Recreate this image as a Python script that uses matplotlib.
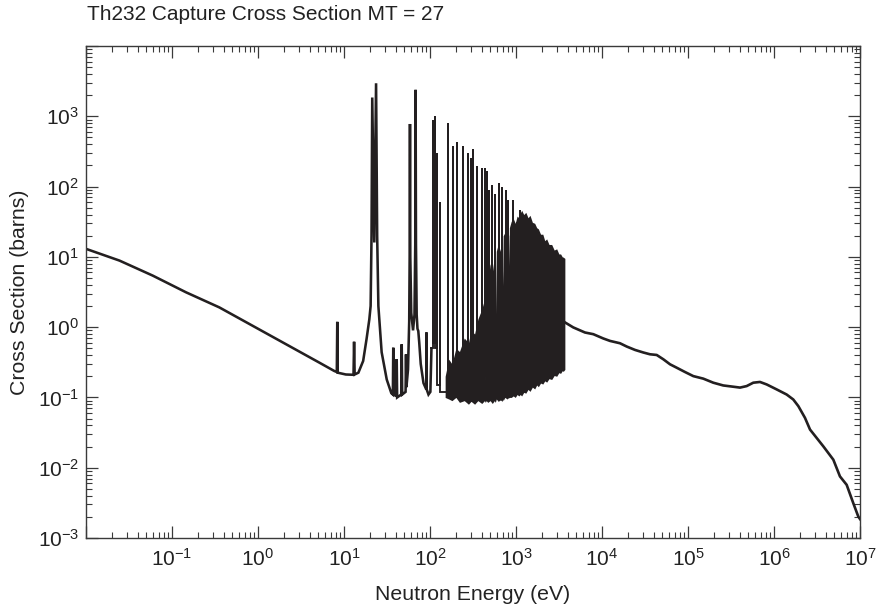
import numpy as np
import matplotlib
matplotlib.use("Agg")
import matplotlib.pyplot as plt
from matplotlib.ticker import LogLocator, LogFormatterMathtext, FuncFormatter, NullFormatter

plt.rcParams['font.family'] = ['Liberation Sans', 'DejaVu Sans']
plt.rcParams['mathtext.fontset'] = 'custom'
plt.rcParams['mathtext.rm'] = 'Liberation Sans'
plt.rcParams['mathtext.it'] = 'Liberation Sans:italic'
plt.rcParams['mathtext.default'] = 'regular'

INK = '#231f20'

# ---- data (energy in eV, cross section in barns) ----
# thermal / low-energy part with first resolved resonances (explicit vertices)
E_low = [0.01, 0.0245, 0.0597, 0.1456, 0.355, 0.867, 2.12, 5.16, 7.7,
         8.25, 8.35, 8.45, 10.5, 12.9, 13.1, 13.3, 14.7, 16.7, 18.3, 19.7,
         20.4, 20.9, 21.3, 22.5, 23.6, 24.3, 25.1, 27.4, 31.4, 35.5,
         37.0, 37.4, 37.8, 40.5, 41.0, 41.5, 46.3, 46.9, 47.5, 52.0, 52.6,
         53.2, 55.5, 57.3, 58.0, 58.5, 59.0, 60.5, 63.5, 66.0, 67.4, 68.0,
         68.7, 70.0, 71.5, 73.1, 75.0, 78.0, 84.0, 90.5, 91.0, 91.5, 96.0,
         101.0, 104.0]
sig_low = [13.0, 8.85, 5.41, 3.13, 1.91, 1.045, 0.571, 0.313, 0.238,
           0.23, 1.19, 0.225, 0.212, 0.21, 0.62, 0.212, 0.225, 0.33, 0.68, 1.29,
           2.0, 20.0, 1850.0, 16.0, 2950.0, 20.0, 2.0, 0.44, 0.18, 0.115,
           0.11, 0.51, 0.11, 0.105, 0.35, 0.10, 0.11, 0.57, 0.11, 0.12, 0.41,
           0.14, 0.25, 1.2, 10.0, 777.0, 10.0, 1.6, 0.9, 1.5, 15.0, 2380.0,
           15.0, 1.5, 0.95, 0.88, 0.6, 0.3, 0.16, 0.13, 0.84, 0.13, 0.11,
           0.12, 0.5]

# resolved resonance spikes: energy, peak value, value of the valley after it
spike_E = [109, 114, 120, 129, 160.6, 186.7, 204, 240, 274, 297, 319, 349,
           399, 437, 456, 490, 526, 570, 640, 681, 765, 813, 931, 1018, 1113]
spike_peak = [900, 1000, 300, 60, 795, 381, 436, 381, 296, 257, 341, 198,
              181, 185, 166, 88, 104, 79, 114, 99, 88, 64, 64, 31, 46]
spike_valley = [0.6, 0.5, 0.15, 0.12, 0.12, 0.3, 0.12, 0.2, 0.2, 0.09, 0.3, 0.15,
                0.2, 0.15, 0.1, 0.2, 0.3, 0.2, 0.3, 0.2, 0.3, 0.2, 0.3, 0.4, 0.5]

# dense block of overlapping resonances (solid envelope, with the few white gaps)
dense_E = [150, 165, 180, 200, 220, 250, 280, 300, 330, 360, 400, 430, 440, 450,
           470, 500, 530, 560, 575, 590, 620, 660, 690, 700, 710, 740, 790, 822,
           830, 838, 880, 930, 980, 1030, 1080, 1120, 1164, 1230,
           1300, 1380, 1455, 1550, 1650, 1740, 1820, 1930, 2050, 2160, 2275,
           2420, 2600, 2780, 2973, 3150, 3300, 3450, 3548, 3700]
dense_top = [0.2, 0.35, 0.3, 0.5, 0.45, 0.7, 0.6, 0.9, 0.8, 1.3, 1.8, 2.5, 0.16, 3.0,
             4.0, 8.0, 6.0, 10.0, 1.0, 12.0, 15.0, 12.0, 18.0, 3.9, 20.0, 22.0, 28.0, 20.0,
             7.5, 26.0, 32.0, 35.0, 30.0, 38.0, 36.0, 42.0, 46.0, 40.0,
             43.0, 36.0, 39.0, 31.0, 30.0, 26.0, 25.0, 21.0, 21.0, 17.0, 18.0,
             15.0, 15.0, 12.5, 13.0, 11.0, 11.0, 10.0, 9.9, 9.5]
dense_bot = [0.10, 0.095, 0.09, 0.1, 0.085, 0.09, 0.08, 0.088, 0.08, 0.09, 0.082, 0.09, 0.085, 0.09,
             0.085, 0.09, 0.082, 0.09, 0.085, 0.095, 0.088, 0.092, 0.088, 0.095, 0.09, 0.1, 0.095, 0.1,
             0.098, 0.1, 0.1, 0.105, 0.1, 0.11, 0.105, 0.11, 0.105, 0.118,
             0.115, 0.13, 0.122, 0.14, 0.132, 0.15, 0.142, 0.16, 0.155, 0.172, 0.165,
             0.185, 0.18, 0.205, 0.2, 0.225, 0.22, 0.24, 0.235, 0.25]

# fast-neutron smooth part
E_high = [3715, 4634, 6339, 7925, 10350, 12390, 16180, 19360, 24210, 30200,
          36140, 43250, 51640, 61800, 73790, 92260, 115300, 150700, 196800,
          257000, 336500, 402700, 480800, 574100, 687100, 822200, 1074000,
          1403000, 1675000, 1919000, 2291000, 2624000, 3750000, 4898000,
          5848000, 6998000, 8356000, 9550000, 10000000]
sig_high = [1.167, 0.991, 0.839, 0.794, 0.690, 0.637, 0.590, 0.530, 0.474, 0.436,
            0.411, 0.402, 0.349, 0.296, 0.265, 0.230, 0.201, 0.185, 0.162,
            0.148, 0.142, 0.138, 0.145, 0.162, 0.166, 0.153, 0.130,
            0.110, 0.0935, 0.0752, 0.0513, 0.0349, 0.0201, 0.0130,
            0.00752, 0.00571, 0.00313, 0.00202, 0.00186]

# ---- build the spike line from the data ----
spk_E = [E_low[-1]]
spk_s = [sig_low[-1]]
prev_valley = sig_low[-1]
for e, p, v in zip(spike_E, spike_peak, spike_valley):
    spk_E += [e, e, e]
    spk_s += [prev_valley, p, v]
    prev_valley = v

fig = plt.figure(figsize=(8.81, 6.10), dpi=100)
ax = fig.add_axes([86/881, 72/610, 774/881, 492/610])

ax.fill_between(dense_E, dense_bot, dense_top, color=INK, lw=0)
ax.plot(spk_E, spk_s, color=INK, lw=1.35, solid_joinstyle='miter')
ax.plot(E_low, sig_low, color=INK, lw=1.85, solid_joinstyle='miter')
ax.plot(E_high, sig_high, color=INK, lw=1.9)

ax.set_xscale('log')
ax.set_yscale('log')

ax.xaxis.set_major_locator(LogLocator(base=10, numticks=20))
ax.xaxis.set_minor_locator(LogLocator(base=10, subs=np.arange(2, 10), numticks=20))
ax.yaxis.set_major_locator(LogLocator(base=10, numticks=20))
ax.yaxis.set_minor_locator(LogLocator(base=10, subs=np.arange(2, 10), numticks=20))

base_fmt = LogFormatterMathtext()
ax.xaxis.set_major_formatter(FuncFormatter(lambda v, p: '' if (v <= 1.01e-2 or v > 1.01e7) else base_fmt(v, p)))
ax.yaxis.set_major_formatter(FuncFormatter(lambda v, p: '' if (v >= 0.99e4 or v < 0.99e-3) else base_fmt(v, p)))
ax.xaxis.set_minor_formatter(NullFormatter())
ax.yaxis.set_minor_formatter(NullFormatter())

ax.set_xlim(1e-2, 1e7)
ax.set_ylim(1e-3, 1e4)

ax.tick_params(which='both', direction='in', top=True, right=True,
               color='#3a3a3a', labelcolor='#222222')
ax.tick_params(which='major', length=8.5, width=0.9, labelsize=15)
ax.tick_params(axis='x', which='major', pad=7)
ax.tick_params(axis='y', which='major', pad=5)
ax.tick_params(which='minor', length=4.2, width=0.8)

for s in ax.spines.values():
    s.set_color('#3a3a3a')
    s.set_linewidth(1.0)

ax.set_xlabel('Neutron Energy (eV)', fontsize=15.3, color='#222222', labelpad=11)
ax.set_ylabel('Cross Section (barns)', fontsize=15.3, color='#222222', labelpad=6)
fig.text(87/881, 1 - 14/610, 'Th232 Capture Cross Section MT = 27',
         fontsize=15, color='#222222', ha='left', va='center')

fig.savefig('out.png', dpi=100)
